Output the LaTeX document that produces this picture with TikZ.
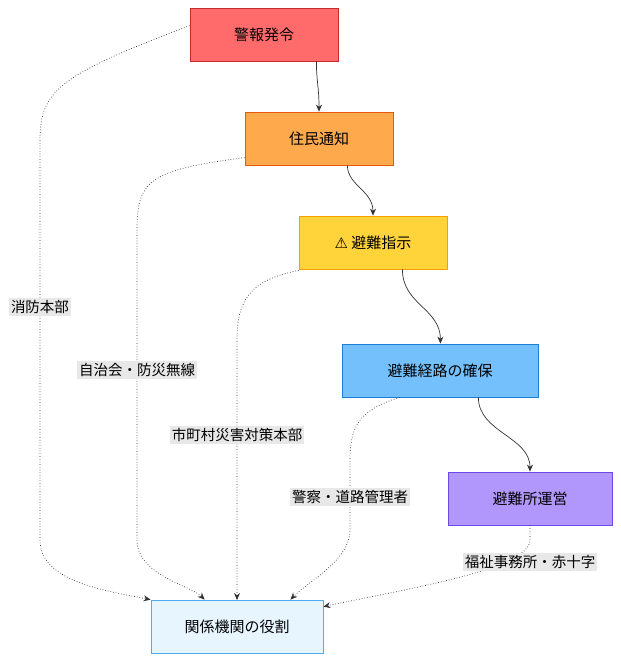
\documentclass[tikz,border=0pt]{standalone}
\usepackage{fontspec}
\setmainfont{Noto Sans CJK JP}
\newfontfamily\symf{DejaVu Sans}
\usetikzlibrary{arrows.meta}
\definecolor{cred}{HTML}{FF6B6B}\definecolor{bred}{HTML}{C92A2A}
\definecolor{cor}{HTML}{FFA94D}\definecolor{bor}{HTML}{E8590C}
\definecolor{cye}{HTML}{FFD43B}\definecolor{bye}{HTML}{F59F00}
\definecolor{cbl}{HTML}{74C0FC}\definecolor{bbl}{HTML}{1C7ED6}
\definecolor{cpu}{HTML}{B197FC}\definecolor{bpu}{HTML}{7048E8}
\definecolor{cli}{HTML}{E7F5FF}\definecolor{bli}{HTML}{4DABF7}
\definecolor{lab}{HTML}{E8E8E8}
\tikzset{
 box/.style={draw, line width=0.8pt, minimum height=53pt, font=\fontsize{15}{17}\selectfont, inner sep=0pt},
 solid/.style={draw=black!80, line width=0.7pt, -{Stealth[length=7pt,width=6pt]}},
 dot/.style={draw=black!80, line width=0.7pt, dotted, -{Stealth[length=7pt,width=6pt]}},
 lbl/.style={fill=lab, font=\fontsize{14.5}{16}\selectfont, inner sep=2pt},
}
\begin{document}
\begin{tikzpicture}[x=1pt,y=-1pt]
\useasboundingbox (0,0) rectangle (621,662);
\node[box, fill=cred, draw=bred, minimum width=148pt] (a) at (264,34.5) {警報発令};
\node[box, fill=cor, draw=bor, minimum width=148pt] (b) at (319,138.5) {住民通知};
\node[box, fill=cye, draw=bye, minimum width=148pt] (c) at (373,242.5) {\symf ⚠\rmfamily\ 避難指示};
\node[box, fill=cbl, draw=bbl, minimum width=196pt] (d) at (440,370.5) {避難経路の確保};
\node[box, fill=cpu, draw=bpu, minimum width=164pt] (e) at (530,498.5) {避難所運営};
\node[box, fill=cli, draw=bli, minimum width=172pt] (f) at (237,626.5) {関係機関の役割};
\path[solid] ([xshift=-22pt]a.south east) .. controls +(0,20) and +(0,-25) .. (b.north);
\path[solid] ([xshift=-46pt]b.south east) .. controls +(0,20) and +(0,-25) .. (c.north);
\path[solid] ([xshift=-45pt]c.south east) .. controls +(0,35) and +(0,-35) .. ([xshift=-98pt]d.north east);
\path[solid] ([xshift=-60pt]d.south east) .. controls +(0,35) and +(0,-35) .. (e.north);
\path[dot] ([yshift=-18pt]a.north west) .. controls (60,75) and (40,90) .. (40,140) -- (40,540) .. controls (40,580) and (100,590) .. (f.north west);
\path[dot] ([yshift=-46pt]b.north west) .. controls (150,170) and (137,180) .. (137,230) -- (137,540) .. controls (137,575) and (190,585) .. ([xshift=54pt]f.north west);
\path[dot] ([yshift=-1pt]c.south west) .. controls (250,280) and (237,300) .. (237,340) -- (237,600);
\path[dot] ([xshift=58pt]d.south west) .. controls (360,410) and (350,425) .. (350,460) -- (350,530) .. controls (350,560) and (310,580) .. ([xshift=-33pt]f.north east);
\path[dot] (e.south) -- (530,540) .. controls (530,570) and (400,590) .. ([yshift=-7pt]f.north east);
\node[lbl] at (40,307) {消防本部};
\node[lbl] at (137,370) {自治会・防災無線};
\node[lbl] at (237,435) {市町村災害対策本部};
\node[lbl] at (350,497) {警察・道路管理者};
\node[lbl] at (530,562) {福祉事務所・赤十字};
\end{tikzpicture}
\end{document}
